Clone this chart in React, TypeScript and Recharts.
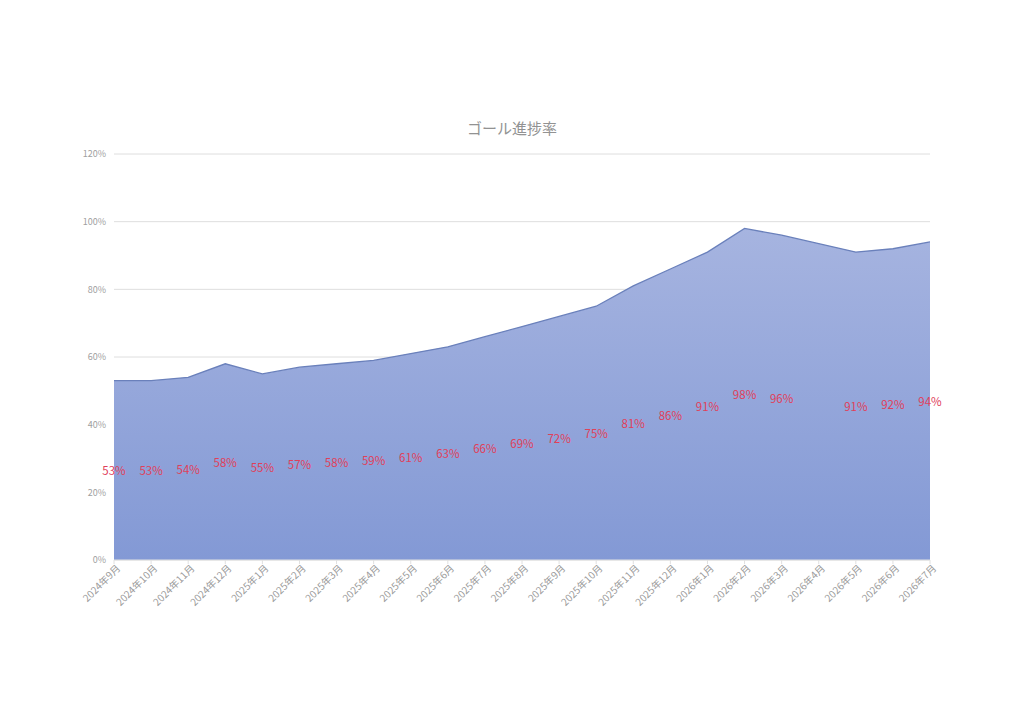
import { Area, AreaChart, CartesianGrid, LabelList, Line, XAxis, YAxis } from "recharts"

const months = [
  "2024年9月", "2024年10月", "2024年11月", "2024年12月",
  "2025年1月", "2025年2月", "2025年3月", "2025年4月", "2025年5月", "2025年6月",
  "2025年7月", "2025年8月", "2025年9月", "2025年10月", "2025年11月", "2025年12月",
  "2026年1月", "2026年2月", "2026年3月", "2026年4月", "2026年5月", "2026年6月", "2026年7月",
]

const progress: (number | null)[] = [
  53, 53, 54, 58, 55, 57, 58, 59, 61, 63, 66, 69, 72, 75, 81, 86, 91, 98, 96, null, 91, 92, 94,
]

const yTicks = [0, 20, 40, 60, 80, 100, 120]

const data = months.map((month, i) => ({ month, value: progress[i] }))

const FONT = "'Noto Sans CJK JP', 'Noto Sans', sans-serif"

function MonthTick(props: any) {
  const { x, y, payload } = props
  return (
    <g transform={`translate(${x},${y})`}>
      <text
        x={3}
        y={7}
        transform="rotate(-45)"
        textAnchor="end"
        fontSize={10}
        fill="#9a9a9a"
        fontFamily={FONT}
      >
        {payload.value}
      </text>
    </g>
  )
}

function ValueLabel(props: any) {
  const { x, y, value } = props
  if (value == null) return null
  return (
    <text
      x={x}
      y={y}
      textAnchor="middle"
      dominantBaseline="central"
      fontSize={11.5}
      fill="#e0405a"
      fontFamily={FONT}
    >
      {value}%
    </text>
  )
}

export default function App() {
  return (
    <div style={{ position: "absolute", left: 0, top: 0, width: 1024, height: 724, background: "#fff" }}>
      <div
        style={{
          position: "absolute",
          left: 0,
          width: 1024,
          top: 117,
          textAlign: "center",
          fontFamily: FONT,
          fontSize: 15,
          color: "#929292",
        }}
      >
        ゴール進捗率
      </div>
      <AreaChart
        width={1024}
        height={724}
        data={data}
        margin={{ top: 154, right: 94, left: 0, bottom: 0 }}
      >
        <defs>
          <linearGradient id="areaFill" x1="0" y1="0" x2="0" y2="1">
            <stop offset="0%" stopColor="#a6b4e0" />
            <stop offset="100%" stopColor="#8399d5" />
          </linearGradient>
        </defs>
        <CartesianGrid vertical={false} stroke="#dedede" />
        <XAxis
          dataKey="month"
          height={164}
          interval={0}
          tick={<MonthTick />}
          tickLine={{ stroke: "#e0e0e0" }}
          tickSize={4}
          axisLine={{ stroke: "#e0e0e0" }}
        />
        <YAxis
          width={114}
          domain={[0, 120]}
          ticks={yTicks}
          tickFormatter={(v: number) => `${v}%`}
          axisLine={false}
          tickLine={false}
          tickMargin={2}
          tick={{ fontSize: 9, fill: "#a0a0a0", fontFamily: FONT }}
        />
        <Area
          type="linear"
          dataKey="value"
          connectNulls
          stroke="#6a80bb"
          strokeWidth={1.3}
          fill="url(#areaFill)"
          fillOpacity={1}
          dot={false}
          activeDot={false}
          isAnimationActive={false}
        />
        <Line
          type="linear"
          dataKey={(d: any) => (d.value == null ? null : d.value / 2)}
          stroke="none"
          dot={false}
          activeDot={false}
          isAnimationActive={false}
        >
          <LabelList dataKey="value" content={<ValueLabel />} />
        </Line>
      </AreaChart>
    </div>
  )
}
